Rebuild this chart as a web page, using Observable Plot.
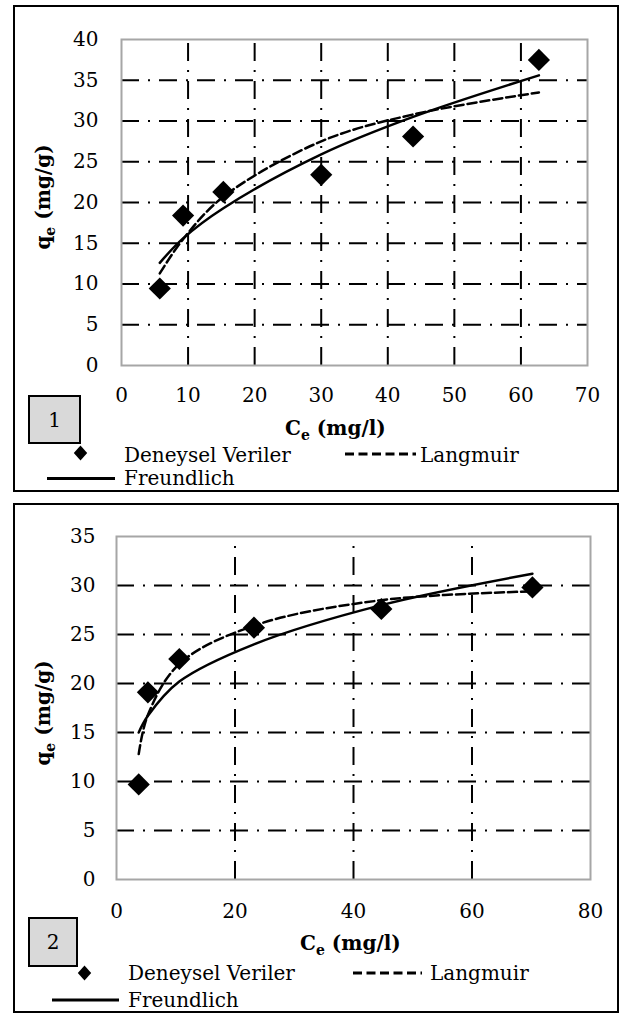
<!DOCTYPE html>
<html>
<head>
<meta charset="utf-8">
<script src="https://cdn.jsdelivr.net/npm/d3@7"></script>
<script src="https://cdn.jsdelivr.net/npm/@observablehq/plot@0.6"></script>
<style>
  html, body { margin: 0; padding: 0; background: #fff; }
  #page { position: relative; width: 622px; height: 1015px; overflow: hidden; font-family: "DejaVu Serif", serif; }
  .panel { position: absolute; left: 13px; width: 602px; border: 2px solid #000; box-sizing: content-box; background: #fff; }
  .chart { position: absolute; left: 0; }
  #overlay { position: absolute; left: 0; top: 0; pointer-events: none; }
</style>
</head>
<body>
<div id="page">
  <div class="panel" style="top:5px;height:483px;"></div>
  <div class="panel" style="top:503px;height:506px;"></div>
  <div class="chart" id="chartA" style="top:0px;"></div>
  <div class="chart" id="chartB" style="top:500px;"></div>
  <svg id="overlay" width="622" height="1015"></svg>
</div>
<script>
// ---- Data ----
// Panel 1
const ceA    = [5.75, 9.25, 15.3, 30.0, 43.8, 62.7];   // Ce (mg/l)
const qeA    = [9.45, 18.4, 21.3, 23.4, 28.1, 37.5];   // Deneysel Veriler
const langA  = [11.3, 15.5, 20.7, 27.5, 30.8, 33.5];   // Langmuir
const freuA  = [12.6, 15.6, 19.3, 25.9, 30.5, 35.6];   // Freundlich
const xTicksA = [0, 10, 20, 30, 40, 50, 60, 70];
const yTicksA = [0, 5, 10, 15, 20, 25, 30, 35, 40];
// Panel 2
const ceB    = [3.75, 5.3, 10.6, 23.2, 44.7, 70.2];
const qeB    = [9.7, 19.1, 22.5, 25.7, 27.6, 29.8];
const langB  = [12.8, 16.8, 22.0, 25.9, 28.5, 29.4];
const freuB  = [15.0, 16.7, 20.2, 24.0, 28.0, 31.2];
const xTicksB = [0, 20, 40, 60, 80];
const yTicksB = [0, 5, 10, 15, 20, 25, 30, 35];

const seriesNames = ["Deneysel Veriler", "Langmuir", "Freundlich"];
const panelLabels = ["1", "2"];

function makePanel(o) {
  const xd = [o.xTicks[0], o.xTicks[o.xTicks.length - 1]];
  const yd = [o.yTicks[0], o.yTicks[o.yTicks.length - 1]];
  const xGrid = o.xTicks.filter(v => v > xd[0] && v < xd[1]);
  const yGrid = o.yTicks.filter(v => v > yd[0] && v < yd[1]);
  const pts = o.ce.map((c, i) => ({c, q: o.qe[i]}));
  const lp = o.ce.map((c, i) => ({c, q: o.lang[i]}));
  const fp = o.ce.map((c, i) => ({c, q: o.freu[i]}));
  return Plot.plot({
    width: 622, height: o.h,
    marginLeft: o.ml, marginRight: o.mr, marginTop: o.mt, marginBottom: o.mb,
    style: {fontFamily: "DejaVu Serif", fontSize: "20px", background: "transparent", overflow: "visible", color: "#000"},
    x: {domain: xd, ticks: o.xTicks, tickSize: 0, tickPadding: o.xPad, label: null},
    y: {domain: yd, ticks: o.yTicks, tickSize: 0, tickPadding: o.yPad, label: null},
    marks: [
      Plot.ruleY(yGrid, {x1: xd[0], x2: xd[1], stroke: "#000", strokeWidth: 2, strokeDasharray: "18,9,2,9"}),
      Plot.ruleX(xGrid, {y1: yd[0], y2: yd[1], stroke: "#000", strokeWidth: 2, strokeDasharray: "18,9,2,9"}),
      Plot.frame({stroke: "#a6a6a6", strokeWidth: 2}),
      Plot.line(lp, {x: "c", y: "q", curve: "catmull-rom", stroke: "#000", strokeWidth: 2.5, strokeDasharray: "9,4"}),
      Plot.line(fp, {x: "c", y: "q", curve: "catmull-rom", stroke: "#000", strokeWidth: 2.5}),
      Plot.dot(pts, {x: "c", y: "q", symbol: "diamond2", r: 10, fill: "#000", stroke: "none"})
    ]
  });
}

document.getElementById("chartA").appendChild(makePanel({
  ce: ceA, qe: qeA, lang: langA, freu: freuA, xTicks: xTicksA, yTicks: yTicksA,
  h: 410, ml: 121, mr: 35, mt: 39, mb: 45, xPad: 22, yPad: 23
}));
document.getElementById("chartB").appendChild(makePanel({
  ce: ceB, qe: qeB, lang: langB, freu: freuB, xTicks: xTicksB, yTicks: yTicksB,
  h: 420, ml: 116, mr: 32, mt: 36, mb: 41, xPad: 24, yPad: 21
}));

// ---- Overlay: axis titles, panel number boxes, legends ----
const ns = "http://www.w3.org/2000/svg";
const ov = document.getElementById("overlay");
function el(tag, attrs, parent) {
  const e = document.createElementNS(ns, tag);
  for (const k in attrs) e.setAttribute(k, attrs[k]);
  (parent || ov).appendChild(e);
  return e;
}
function title(main, sub, rest, attrs) {
  const t = el("text", Object.assign({"font-family": "DejaVu Serif", "font-weight": "bold", "font-size": 20, fill: "#000"}, attrs));
  const a = el("tspan", {}, t); a.textContent = main;
  const b = el("tspan", {dy: 5, "font-size": 14}, t); b.textContent = sub;
  const c = el("tspan", {dy: -5}, t); c.textContent = rest;
  return t;
}
function legend(L) {
  // number box
  el("rect", {x: L.box[0], y: L.box[1], width: L.box[2], height: L.box[3], fill: "#d9d9d9", stroke: "#000", "stroke-width": 2});
  const n = el("text", {x: L.box[0] + L.box[2] / 2, y: L.box[1] + L.box[3] / 2 + 7, "text-anchor": "middle", "font-family": "DejaVu Serif", "font-size": 20, fill: "#000"});
  n.textContent = L.label;
  // diamond
  const [dx, dy] = L.diamond;
  el("path", {d: `M${dx},${dy - 7.5}L${dx + 6.7},${dy}L${dx},${dy + 7.5}L${dx - 6.7},${dy}Z`, fill: "#000"});
  const t1 = el("text", {x: L.t1[0], y: L.t1[1], "font-family": "DejaVu Serif", "font-size": 20, fill: "#000"});
  t1.textContent = seriesNames[0];
  el("line", {x1: L.dash[0], x2: L.dash[1], y1: L.dash[2], y2: L.dash[2], stroke: "#000", "stroke-width": 3, "stroke-dasharray": "9,4.5"});
  const t2 = el("text", {x: L.t2[0], y: L.t2[1], "font-family": "DejaVu Serif", "font-size": 20, fill: "#000"});
  t2.textContent = seriesNames[1];
  el("line", {x1: L.solid[0], x2: L.solid[1], y1: L.solid[2], y2: L.solid[2], stroke: "#000", "stroke-width": 3});
  const t3 = el("text", {x: L.t3[0], y: L.t3[1], "font-family": "DejaVu Serif", "font-size": 20, fill: "#000"});
  t3.textContent = seriesNames[2];
}

// Panel 1 titles
title("C", "e", " (mg/l)", {x: 285, y: 435});
title("q", "e", " (mg/g)", {transform: "translate(49.5,197) rotate(-90)", "text-anchor": "middle"});
// Panel 2 titles
title("C", "e", " (mg/l)", {x: 300, y: 950});
title("q", "e", " (mg/g)", {transform: "translate(49.5,713) rotate(-90)", "text-anchor": "middle"});

legend({label: panelLabels[0], box: [29, 396, 51, 47], diamond: [80.5, 453],
        t1: [124, 461.5], dash: [345, 416, 454], t2: [420, 461.5], solid: [47, 115, 478.5], t3: [124, 485]});
legend({label: panelLabels[1], box: [29, 918, 48, 48], diamond: [84.5, 973],
        t1: [128, 980], dash: [353, 422, 973], t2: [430, 980], solid: [52, 119, 1000], t3: [128, 1007]});
</script>
</body>
</html>
